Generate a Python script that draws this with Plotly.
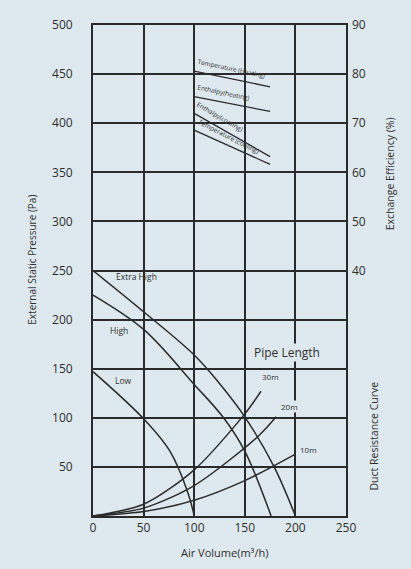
import plotly.graph_objects as go

# ---- data ----
x_ticks = [0, 50, 100, 150, 200, 250]
y_ticks = [50, 100, 150, 200, 250, 300, 350, 400, 450, 500]
eff_ticks = [40, 50, 60, 70, 80, 90]

# fan curves: air volume (m3/h) vs external static pressure (Pa)
extra_high_x = [0, 50, 100, 125, 150, 179, 200]
extra_high_y = [250, 208, 164, 135, 101, 50, 0]
high_x = [0, 50, 100, 129, 150, 176]
high_y = [225, 190, 134, 100, 66, 0]
low_x = [0, 50, 76, 94, 100]
low_y = [147, 99, 66, 23, 0]

# duct resistance curves
duct30_x = [0, 50, 100, 150, 166]
duct30_y = [0, 12, 47, 104, 127]
duct20_x = [0, 50, 100, 163, 181]
duct20_y = [0, 8, 31, 81, 101]
duct10_x = [0, 50, 100, 150, 200]
duct10_y = [0, 4.5, 16, 36, 63]

# exchange efficiency lines (%)
eff_x = [100, 175]
temp_heat_eff = [80.6, 77.4]
enth_heat_eff = [75.4, 72.4]
enth_cool_eff = [72.0, 63.2]
temp_cool_eff = [68.6, 61.6]

BG = "#dee9ef"
INK = "#2b2b2b"
TXT = "#2e2e2e"
FONT = "Open Sans"

fig = go.Figure()

fan_line = dict(color=INK, width=1.5, shape="spline", smoothing=1.0)
duct_line = dict(color=INK, width=1.5, shape="spline", smoothing=0.8)
for xs, ys in [(extra_high_x, extra_high_y), (high_x, high_y), (low_x, low_y)]:
    fig.add_trace(go.Scatter(x=xs, y=ys, mode="lines", line=fan_line,
                             hoverinfo="skip", showlegend=False))
for xs, ys in [(duct30_x, duct30_y), (duct20_x, duct20_y), (duct10_x, duct10_y)]:
    fig.add_trace(go.Scatter(x=xs, y=ys, mode="lines", line=duct_line,
                             hoverinfo="skip", showlegend=False))

for ys in [temp_heat_eff, enth_heat_eff, enth_cool_eff, temp_cool_eff]:
    fig.add_trace(go.Scatter(x=eff_x, y=ys, mode="lines", yaxis="y2",
                             line=dict(color=INK, width=1.3),
                             hoverinfo="skip", showlegend=False))

ann = []
def add(text, x, y, size, angle=0, bg=None, xref="x", yref="y"):
    d = dict(text=text, x=x, y=y, xref=xref, yref=yref, showarrow=False,
             textangle=angle, font=dict(family=FONT, size=size, color=TXT),
             xanchor="center", yanchor="middle")
    if bg:
        d["bgcolor"] = bg
        d["borderpad"] = 0
    ann.append(d)

add("Extra High", 43, 244, 8.5)
add("High", 25.7, 188.5, 8.5)
add("Low", 30.6, 137.5, 8.5)
add("Pipe Length", 192, 167, 12, bg=BG)
add("30m", 175, 142, 8, bg=BG)
add("20m", 194, 112, 8, bg=BG)
add("10m", 213, 68, 8, bg=BG)

add("Temperature (Heating)", 137, 456, 6.5, angle=12)
add("Enthalpy(heating)", 129, 431, 6.5, angle=12)
add("Enthalpy(cooling)", 125, 407, 6.5, angle=30)
add("Temperature (cooling)", 134, 386, 6.5, angle=27)

add("External Static Pressure (Pa)", -0.241, 0.522, 10, angle=-90, xref="paper", yref="paper")
add("Exchange Efficiency (%)", 1.174, 0.696, 10.5, angle=-90, xref="paper", yref="paper")
add("Duct Resistance Curve", 1.111, 0.162, 10.5, angle=-90, xref="paper", yref="paper")
add("Air Volume(m³/h)", 0.518, -0.074, 11, xref="paper", yref="paper")

fig.update_layout(
    width=411, height=569,
    margin=dict(l=85, r=73, t=8, b=61),
    paper_bgcolor=BG, plot_bgcolor=BG,
    font=dict(family=FONT, color=TXT),
    annotations=ann,
    xaxis=dict(range=[0, 250], tickvals=x_ticks, showgrid=True, gridcolor=INK,
               gridwidth=1.8, zeroline=False, showline=True, linecolor=INK,
               linewidth=1.8, mirror=True, ticks="", tickfont=dict(size=12, color=TXT),
               fixedrange=True),
    yaxis=dict(range=[0, 500], tickvals=y_ticks, showgrid=True, gridcolor=INK,
               gridwidth=1.8, zeroline=False, showline=True, linecolor=INK,
               linewidth=1.8, mirror=True, ticks="", ticklabelstandoff=16,
               tickfont=dict(size=12, color=TXT), fixedrange=True),
    yaxis2=dict(range=[-10, 90], tickvals=eff_ticks, overlaying="y", side="right",
                showgrid=False, zeroline=False, showline=False, ticks="",
                ticklabelstandoff=5, tickfont=dict(size=12, color=TXT), fixedrange=True),
)

fig.write_html("out.html",
               post_script="document.body.style.background='%s';" % BG)
